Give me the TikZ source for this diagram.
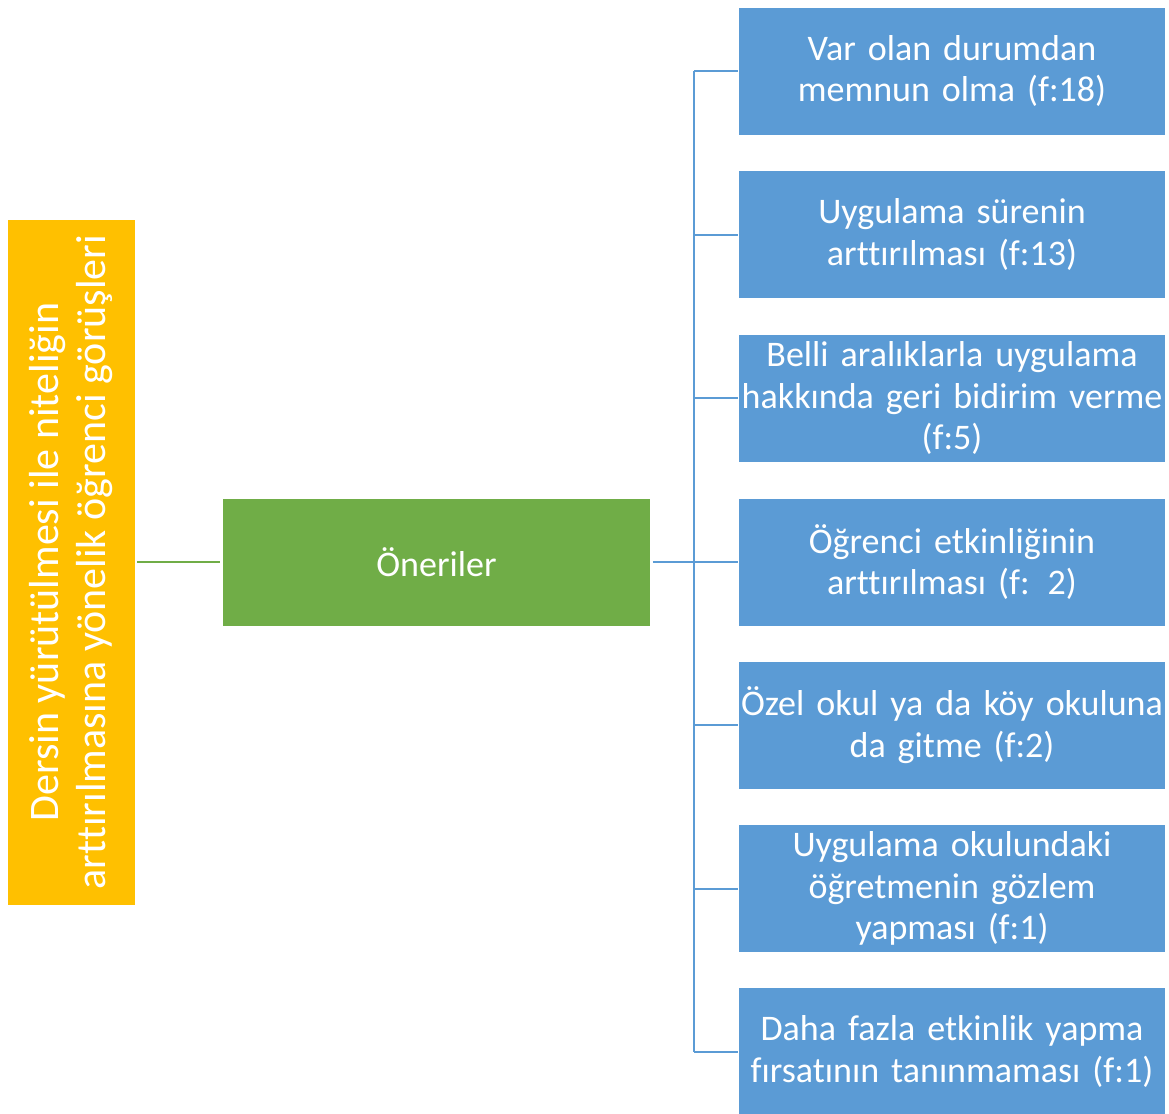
\documentclass[tikz,border=0pt]{standalone}
\usepackage{fontspec}
\setmainfont{Carlito}[Ligatures={NoCommon}]
\definecolor{cyellow}{HTML}{FFC000}
\definecolor{cgreen}{HTML}{70AD47}
\definecolor{cblue}{HTML}{5B9BD5}
\begin{document}
\begin{tikzpicture}[x=1pt,y=-1pt,
  box/.style={draw=white,line width=0.8pt,inner sep=0pt,align=center,text=white,
    font=\fontsize{36}{41.5}\selectfont},
  bluebox/.style={box,fill=cblue,minimum width=427pt,minimum height=128pt,text width=427pt},
  conn/.style={draw=cblue,line width=2.6pt},
  gconn/.style={draw=cgreen,line width=2.6pt}]
\useasboundingbox (0,0) rectangle (1169,1113);
\node[box,fill=cyellow,minimum width=686pt,minimum height=128pt,rotate=90,
  font=\fontsize{42}{47}\selectfont] (y) at (71,562)
  {Dersin yürütülmesi ile niteliğin\\arttırılmasına yönelik öğrenci görüşleri};
\node[box,fill=cgreen,minimum width=428pt,minimum height=128pt] (g) at (436.5,562) {Öneriler};
\node[bluebox] (b1) at (952,71) {Var olan durumdan\\memnun olma (f:18)};
\node[bluebox] (b2) at (952,234.5) {Uygulama sürenin\\arttırılması (f:13)};
\node[bluebox] (b3) at (952,398) {Belli aralıklarla uygulama\\hakkında geri bidirim verme\\(f:5)};
\node[bluebox] (b4) at (952,562) {Öğrenci etkinliğinin\\arttırılması (f: 2)};
\node[bluebox] (b5) at (952,725) {Özel okul ya da köy okuluna\\da gitme (f:2)};
\node[bluebox] (b6) at (952,888.5) {Uygulama okulundaki\\öğretmenin gözlem\\yapması (f:1)};
\node[bluebox] (b7) at (952,1051.5) {Daha fazla etkinlik yapma\\fırsatının tanınmaması (f:1)};
\coordinate (tr) at (694,562);
\draw[gconn,shorten <=2pt,shorten >=2pt] (y.south) -- (g.west);
\draw[conn,shorten <=2pt] (g.east) -- (b4.west);
\draw[conn] (b1.west -| tr) -- (b7.west -| tr);
\foreach \i in {1,2,3,5,6,7}{
  \draw[conn,line width=2pt] (b\i.west -| tr) -- (b\i.west);
}
\end{tikzpicture}
\end{document}
